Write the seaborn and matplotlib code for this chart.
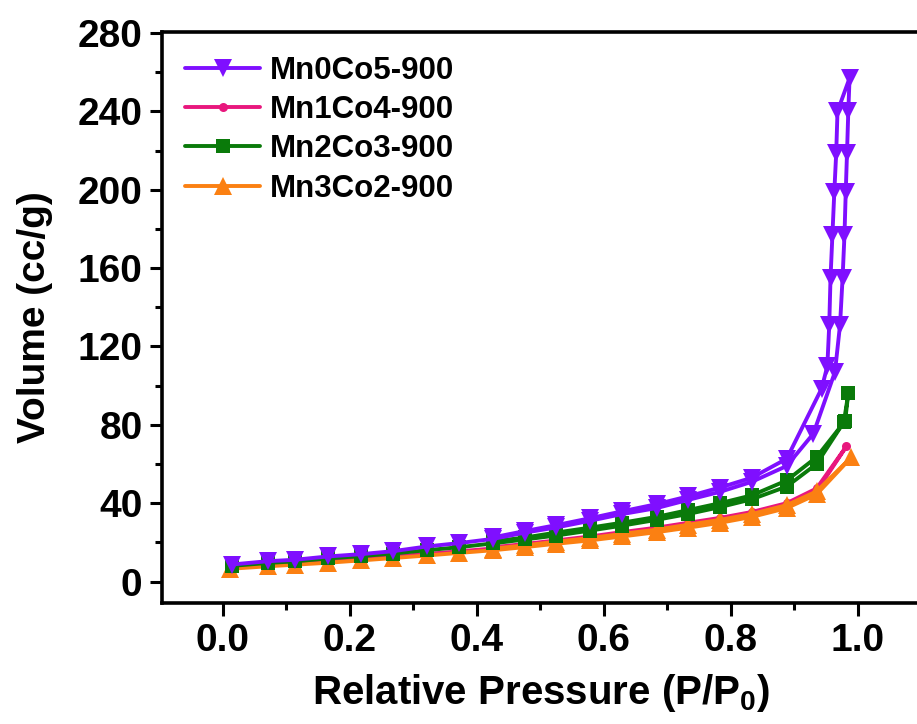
import numpy as np
import pandas as pd
import matplotlib
matplotlib.use("Agg")
import matplotlib.pyplot as plt
import seaborn as sns
from matplotlib.ticker import MultipleLocator

sns.set_theme(style="ticks")
plt.rcParams['font.family'] = ['Liberation Sans', 'DejaVu Sans']
plt.rcParams['font.weight'] = 'bold'
plt.rcParams['mathtext.fontset'] = 'custom'
plt.rcParams['mathtext.rm'] = 'Liberation Sans:bold'
plt.rcParams['mathtext.bf'] = 'Liberation Sans:bold'
plt.rcParams['mathtext.it'] = 'Liberation Sans:bold'
for k in ['text.color', 'axes.labelcolor', 'xtick.color', 'ytick.color', 'axes.edgecolor']:
    plt.rcParams[k] = 'black'

# ---- data: adsorption (increasing P/P0) then desorption (decreasing P/P0) ----
labels = ["Mn0Co5-900", "Mn1Co4-900", "Mn2Co3-900", "Mn3Co2-900"]
colors = ["#7f0fff", "#e8177d", "#0a7a0a", "#fb8012"]

mn0_ads_x = [0.014, 0.071, 0.113, 0.165, 0.218, 0.268, 0.321, 0.371, 0.426, 0.476, 0.525, 0.578,
             0.628, 0.683, 0.733, 0.783, 0.833, 0.888, 0.930, 0.964, 0.972, 0.976, 0.979, 0.981, 0.983, 0.985, 0.987]
mn0_ads_y = [8.7, 10.4, 11.1, 12.8, 14.0, 15.5, 17.9, 19.6, 21.8, 25.0, 27.6, 31.0,
             34.4, 37.5, 41.7, 45.8, 50.9, 59.0, 75.5, 107, 131, 155, 177, 199, 219, 240, 257]
mn0_des_x = [0.968, 0.966, 0.963, 0.960, 0.957, 0.955, 0.952, 0.943, 0.888, 0.833, 0.783, 0.733,
             0.683, 0.628, 0.578, 0.525, 0.476, 0.426]
mn0_des_y = [240, 219, 199, 177, 155, 131, 110, 98.5, 62.7, 53.0, 48.0, 43.5,
             39.5, 35.8, 32.3, 28.8, 25.8, 22.6]

mn1_ads_x = [0.011, 0.071, 0.113, 0.165, 0.218, 0.268, 0.321, 0.371, 0.426, 0.476, 0.525, 0.578,
             0.628, 0.683, 0.733, 0.783, 0.833, 0.888, 0.935, 0.982]
mn1_ads_y = [7.2, 8.5, 9.3, 10.4, 11.6, 12.8, 14.1, 15.4, 16.9, 18.5, 20.2, 22.0,
             24.0, 26.3, 28.6, 31.2, 34.2, 38.8, 46.0, 69.0]
mn1_des_x = [0.935, 0.888, 0.833, 0.783, 0.733, 0.683, 0.628, 0.578, 0.525, 0.476, 0.426]
mn1_des_y = [47.5, 40.0, 35.5, 32.5, 30.0, 27.5, 25.2, 23.0, 21.0, 19.2, 17.5]

mn2_ads_x = [0.014, 0.071, 0.113, 0.165, 0.218, 0.268, 0.321, 0.371, 0.426, 0.476, 0.525, 0.578,
             0.628, 0.683, 0.733, 0.783, 0.833, 0.888, 0.935, 0.978, 0.985]
mn2_ads_y = [8.0, 9.5, 10.3, 11.8, 13.0, 14.3, 16.0, 17.5, 19.5, 21.5, 23.5, 26.0,
             28.5, 31.5, 34.5, 38.0, 42.0, 48.5, 60.0, 81.4, 96.0]
mn2_des_x = [0.980, 0.935, 0.888, 0.833, 0.783, 0.733, 0.683, 0.628, 0.578, 0.525, 0.476, 0.426]
mn2_des_y = [82.0, 63.5, 51.6, 44.0, 40.0, 36.5, 33.0, 30.0, 27.5, 25.0, 22.5, 20.5]

mn3_ads_x = [0.011, 0.071, 0.113, 0.165, 0.218, 0.268, 0.321, 0.371, 0.426, 0.476, 0.525, 0.578,
             0.628, 0.683, 0.733, 0.783, 0.833, 0.888, 0.935, 0.990]
mn3_ads_y = [6.5, 7.8, 8.6, 9.6, 10.8, 12.0, 13.3, 14.6, 16.0, 17.6, 19.3, 21.0,
             23.0, 25.2, 27.5, 30.0, 33.0, 37.5, 44.5, 63.5]
mn3_des_x = [0.935, 0.888, 0.833, 0.783, 0.733, 0.683, 0.628, 0.578, 0.525, 0.476, 0.426]
mn3_des_y = [46.0, 39.0, 34.5, 31.5, 29.0, 26.5, 24.3, 22.2, 20.3, 18.5, 16.8]

series = {
    "Mn0Co5-900": (mn0_ads_x + mn0_des_x, mn0_ads_y + mn0_des_y),
    "Mn1Co4-900": (mn1_ads_x + mn1_des_x, mn1_ads_y + mn1_des_y),
    "Mn2Co3-900": (mn2_ads_x + mn2_des_x, mn2_ads_y + mn2_des_y),
    "Mn3Co2-900": (mn3_ads_x + mn3_des_x, mn3_ads_y + mn3_des_y),
}
markers = {"Mn0Co5-900": "v", "Mn1Co4-900": "o", "Mn2Co3-900": "s", "Mn3Co2-900": "^"}
msizes = {"Mn0Co5-900": 13, "Mn1Co4-900": 6.5, "Mn2Co3-900": 9.5, "Mn3Co2-900": 13}
zorders = {"Mn0Co5-900": 5, "Mn1Co4-900": 2, "Mn2Co3-900": 4, "Mn3Co2-900": 3}

fig = plt.figure(figsize=(9.17, 7.24), dpi=100)
ax = fig.add_axes([0.1767, 0.167, 0.8266, 0.7887])

draw_order = ["Mn1Co4-900", "Mn3Co2-900", "Mn2Co3-900", "Mn0Co5-900"]
for name in draw_order:
    xs, ys = series[name]
    df = pd.DataFrame({"x": xs, "y": ys})
    c = colors[labels.index(name)]
    sns.lineplot(data=df, x="x", y="y", sort=False, estimator=None, ax=ax,
                 color=c, lw=2.8, marker=markers[name], markersize=msizes[name],
                 markeredgewidth=0, label=name, zorder=zorders[name])

ax.set_xlim(-0.096, 1.098)
ax.set_ylim(-11, 280.5)
ax.set_xticks([0.0, 0.2, 0.4, 0.6, 0.8, 1.0])
ax.set_yticks([0, 40, 80, 120, 160, 200, 240, 280])
ax.xaxis.set_minor_locator(MultipleLocator(0.1))
ax.yaxis.set_minor_locator(MultipleLocator(20))
ax.tick_params(which='major', direction='out', length=9, width=2.2, labelsize=28, pad=5)
ax.tick_params(which='minor', direction='out', length=5, width=2.2)
for lab in ax.get_xticklabels() + ax.get_yticklabels():
    lab.set_fontweight('bold')
for s in ax.spines.values():
    s.set_linewidth(2.6)

ax.set_xlabel(r"Relative Pressure (P/P$_{0}$)", fontsize=29, fontweight='bold', labelpad=10)
ax.set_ylabel("Volume (cc/g)", fontsize=28, fontweight='bold', labelpad=18)

handles, labs = ax.get_legend_handles_labels()
order = [labs.index(l) for l in labels]
leg = ax.legend([handles[i] for i in order], [labs[i] for i in order],
                loc='upper left', frameon=False, prop={'weight': 'bold', 'size': 22.5},
                handlelength=2.4, handletextpad=0.3, labelspacing=0.3,
                bbox_to_anchor=(0.0, 1.0), borderaxespad=0.35)

fig.savefig("out.png", dpi=100)
